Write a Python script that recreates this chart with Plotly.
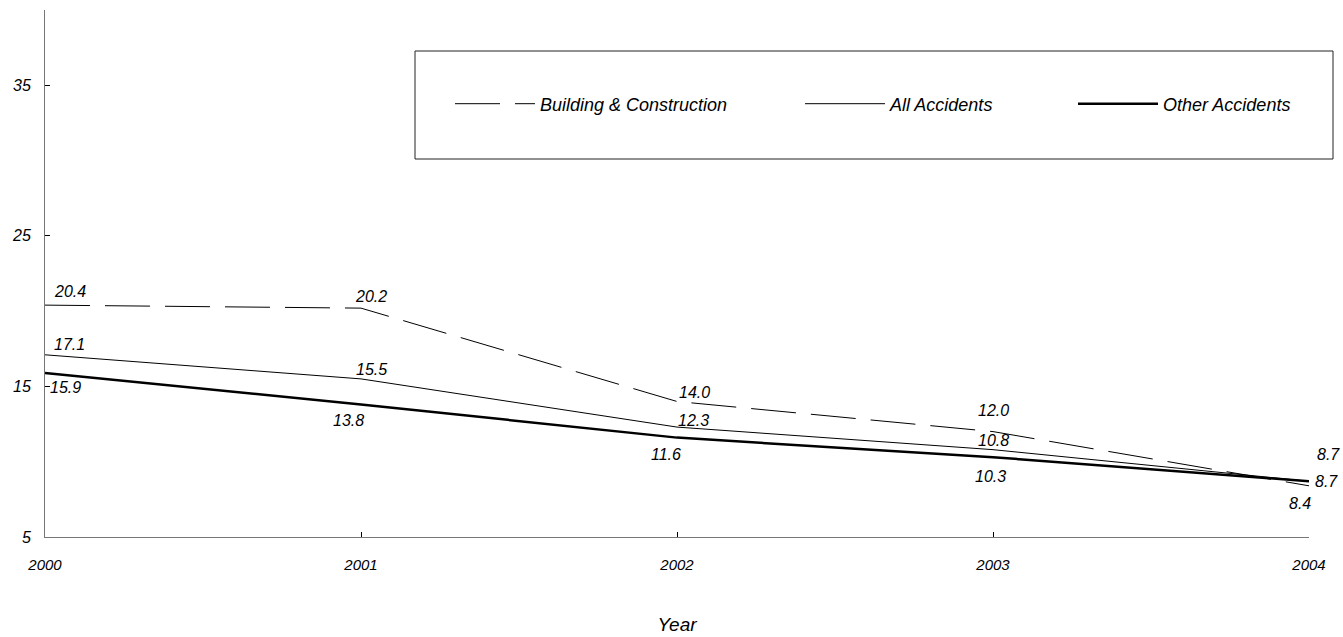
import plotly.graph_objects as go

years = [2000, 2001, 2002, 2003, 2004]
building = [20.4, 20.2, 14.0, 12.0, 8.4]
all_acc = [17.1, 15.5, 12.3, 10.8, 8.7]
other = [15.9, 13.8, 11.6, 10.3, 8.7]
y_ticks = [5, 15, 25, 35]

FONT = "Liberation Sans"

W, H = 1343, 637
L, R, T, B = 45, 34, 10, 100
pw = W - L - R
ph = H - T - B

fig = go.Figure()
fig.add_trace(go.Scatter(x=years, y=building, mode="lines", name="<i>Building & Construction</i>",
                         line=dict(color="black", width=1, dash="45px,15px"), legend="legend"))
fig.add_trace(go.Scatter(x=years, y=all_acc, mode="lines", name="<i>All Accidents</i>",
                         line=dict(color="black", width=1), legend="legend2"))
fig.add_trace(go.Scatter(x=years, y=other, mode="lines", name="<i>Other Accidents</i>",
                         line=dict(color="black", width=2.5), legend="legend3"))

# label offsets (px) per series: (xshift, yshift)
b_off = [(7, 14), (-8, 12), (0, 9), (-17, 21), (-22, -18)]
a_off = [(7, 10), (-7, 9), (-1, 7), (-17, 9), (6, 27)]
o_off = [(3, -15), (-30, -16), (-28, -17), (-20, -19), (4, 0)]

ann = []
for vals, offs in ((building, b_off), (all_acc, a_off), (other, o_off)):
    for x, v, (dx, dy) in zip(years, vals, offs):
        ann.append(dict(x=x, y=v, text=f"<i>{v:.1f}</i>", showarrow=False, xanchor="left",
                        yanchor="middle", xshift=dx, yshift=dy,
                        font=dict(family=FONT, size=16, color="black")))

def px2x(p):
    return (p - L) / pw

def px2y(p):
    return (H - B - p) / ph

legend_common = dict(orientation="h", xanchor="left", yanchor="middle", bgcolor="rgba(0,0,0,0)",
                     itemwidth=80, font=dict(family=FONT, size=18, color="black"),
                     y=px2y(104), borderwidth=0)

fig.update_layout(
    width=W, height=H,
    margin=dict(l=L, r=R, t=T, b=B, autoexpand=False),
    paper_bgcolor="white", plot_bgcolor="white",
    font=dict(family=FONT, color="black"),
    showlegend=True,
    legend=dict(legend_common, x=px2x(450)),
    legend2=dict(legend_common, x=px2x(800)),
    legend3=dict(legend_common, x=px2x(1073)),
    annotations=ann,
    shapes=[dict(type="rect", xref="paper", yref="paper", x0=px2x(415), x1=px2x(1333),
                 y0=px2y(159), y1=px2y(51), line=dict(color="#222", width=1),
                 fillcolor="rgba(0,0,0,0)")],
    xaxis=dict(range=[2000, 2004], tickvals=years, ticktext=[f"<i>{y}</i>" for y in years],
               showgrid=False, zeroline=False, showline=True, linecolor="#777", linewidth=1,
               ticks="inside", ticklen=5, tickcolor="black", ticklabelstandoff=14,
               automargin=False,
               tickfont=dict(family=FONT, size=15, color="black"),
               title=dict(text="<i>Year</i>", font=dict(family=FONT, size=19, color="black"),
                          standoff=45)),
    yaxis=dict(range=[5, 40], tickvals=y_ticks, ticktext=[f"<i>{t}</i>" for t in y_ticks],
               showgrid=False, zeroline=False, automargin=False,
               showline=True, linecolor="#777", linewidth=1,
               ticks="inside", ticklen=5, tickcolor="black", ticklabelstandoff=10,
               tickfont=dict(family=FONT, size=16, color="black")),
)

fig.write_html(
    "out.html",
    config={"displayModeBar": False},
    post_script=("document.documentElement.style.overflow='hidden';"
                 "document.body.style.overflow='hidden';"
                 "document.body.style.margin='0';"),
)
